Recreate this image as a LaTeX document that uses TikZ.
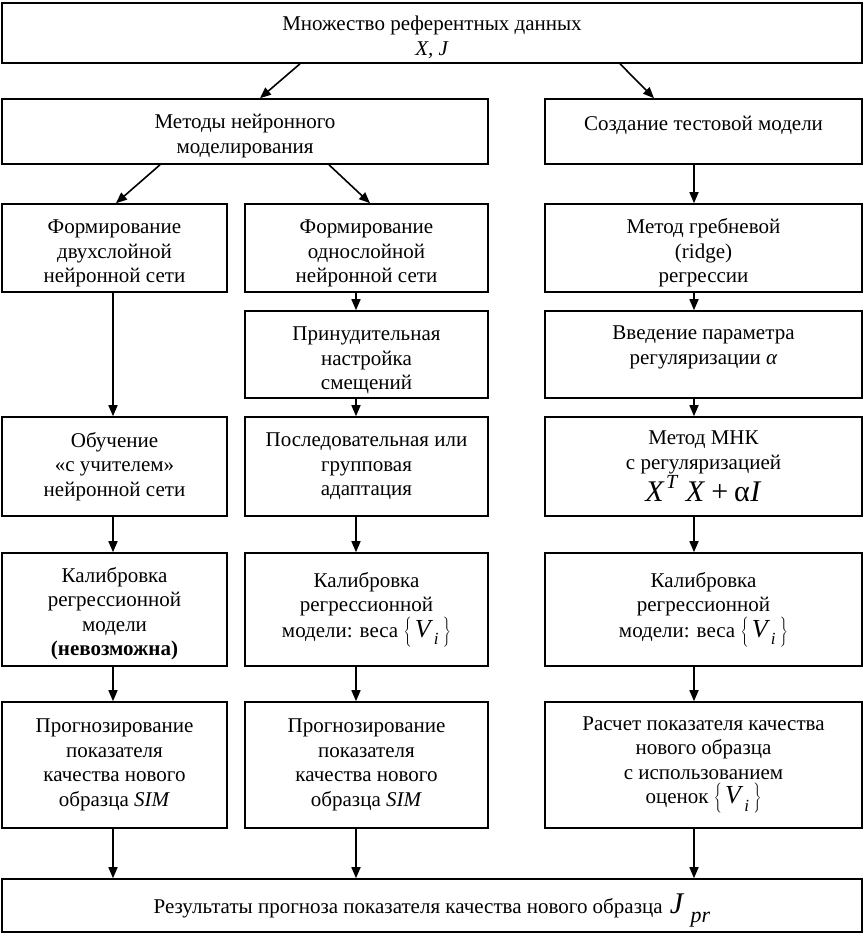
\documentclass[tikz,border=0pt]{standalone}
\usepackage{fontspec}
\setmainfont{Liberation Serif}
\usetikzlibrary{arrows.meta}
\newcommand{\Vset}{$\left\{\vrule height 19pt depth 9pt width 0pt\right.$\kern0.1em{\fontsize{26}{26}\selectfont\textit{V}}\kern0.03em\raisebox{-0.35em}{\fontsize{17}{17}\selectfont\textit{i}}\kern0.15em$\left.\vrule height 19pt depth 9pt width 0pt\right\}$}
\newcommand{\Jpr}{\kern0.1em{\fontsize{30}{30}\selectfont\textit{J}}\kern0.3em\raisebox{-0.45em}{\fontsize{22}{22}\selectfont\textit{pr}}}
\newcommand{\XTX}{{\fontsize{30}{30}\selectfont\textit{X}\kern0.05em\raisebox{0.45em}{\fontsize{20}{20}\selectfont\textit{T}}\kern0.25em\textit{X}\kern0.2em+\kern0.2emα\kern0.02em\textit{I}}}
\newcommand{\fl}[1]{\rule{0pt}{#1pt}}
\begin{document}
\begin{tikzpicture}[x=1pt,y=-1pt,
  box/.style={draw,line width=1.6pt,align=center,inner sep=0pt,font=\fontsize{21}{24.5}\selectfont},
  arr/.style={line width=1.6pt,-{Triangle[length=11pt,width=9pt]}}
]
\useasboundingbox (0,0) rectangle (864,934);
% column x positions of vertical connectors
\coordinate (cL) at (113,0);
\coordinate (cM) at (356,0);
\coordinate (cR) at (694,0);
\coordinate (d1) at (300,0);
\coordinate (d1e) at (260,0);
\coordinate (d2) at (620,0);
\coordinate (d2e) at (654,0);
\coordinate (d3) at (160,0);
\coordinate (d3e) at (116,0);
\coordinate (d4) at (329,0);
\coordinate (d4e) at (370,0);

\node[box,minimum width=860,minimum height=60] (top) at (432,33) {\fl{23}Множество референтных данных\\\textit{X, J}};

\node[box,minimum width=486,minimum height=65] (meth) at (245,131.5) {\fl{23}Методы нейронного\\моделирования};
\node[box,minimum width=317,minimum height=65] (test) at (703.5,131.5) {\fl{29}Создание тестовой модели\\\strut};

\node[box,minimum width=225,minimum height=88] (r3L) at (114.5,248) {\fl{25}Формирование\\двухслойной\\нейронной сети};
\node[box,minimum width=243,minimum height=88] (r3M) at (366.5,248) {\fl{25}Формирование\\однослойной\\нейронной сети};
\node[box,minimum width=317,minimum height=88] (r3R) at (703.5,248) {\fl{25}Метод гребневой\\(ridge)\\регрессии};

\node[box,minimum width=243,minimum height=87] (r4M) at (366.5,354.5) {\fl{26}Принудительная\\настройка\\смещений};
\node[box,minimum width=317,minimum height=87] (r4R) at (703.5,354.5) {\fl{27}Введение параметра\\регуляризации \textit{α}\\\strut};

\node[box,minimum width=225,minimum height=99] (r5L) at (114.5,466.5) {Обучение\\«с учителем»\\нейронной сети};
\node[box,minimum width=243,minimum height=99] (r5M) at (366.5,466.5) {Последовательная или\\групповая\\адаптация};
\node[box,minimum width=317,minimum height=99] (r5R) at (703.5,466.5) {Метод МНК\\с регуляризацией\\\XTX};

\node[box,minimum width=225,minimum height=113] (r6L) at (114.5,609.5) {\fl{23}Калибровка\\регрессионной\\модели\\\textbf{(невозможна)}};
\node[box,minimum width=243,minimum height=113] (r6M) at (366.5,609.5) {Калибровка\\регрессионной\\модели: веса \Vset};
\node[box,minimum width=317,minimum height=113] (r6R) at (703.5,609.5) {Калибровка\\регрессионной\\модели: веса \Vset};

\node[box,minimum width=225,minimum height=126] (r7L) at (114.5,765) {Прогнозирование\\показателя\\качества нового\\образца \textit{SIM}};
\node[box,minimum width=243,minimum height=126] (r7M) at (366.5,765) {Прогнозирование\\показателя\\качества нового\\образца \textit{SIM}};
\node[box,minimum width=317,minimum height=126] (r7R) at (703.5,765) {Расчет показателя качества\\нового образца\\с использованием\\оценок \Vset};

\node[box,minimum width=860,minimum height=53] (bot) at (432,905.5) {\fl{30}Результаты прогноза показателя качества нового образца \Jpr};

% diagonal connectors
\draw[arr] (top.south -| d1) -- (meth.north -| d1e);
\draw[arr] (top.south -| d2) -- (test.north -| d2e);
\draw[arr] (meth.south -| d3) -- (r3L.north -| d3e);
\draw[arr] (meth.south -| d4) -- (r3M.north -| d4e);
\draw[arr] (test.south -| cR) -- (r3R.north -| cR);

% left column
\draw[arr] (r3L.south -| cL) -- (r5L.north -| cL);
\draw[arr] (r5L.south -| cL) -- (r6L.north -| cL);
\draw[arr] (r6L.south -| cL) -- (r7L.north -| cL);
\draw[arr] (r7L.south -| cL) -- (bot.north -| cL);

% middle column
\draw[arr] (r3M.south -| cM) -- (r4M.north -| cM);
\draw[arr] (r4M.south -| cM) -- (r5M.north -| cM);
\draw[arr] (r5M.south -| cM) -- (r6M.north -| cM);
\draw[arr] (r6M.south -| cM) -- (r7M.north -| cM);
\draw[arr] (r7M.south -| cM) -- (bot.north -| cM);

% right column
\draw[arr] (r3R.south -| cR) -- (r4R.north -| cR);
\draw[arr] (r4R.south -| cR) -- (r5R.north -| cR);
\draw[arr] (r5R.south -| cR) -- (r6R.north -| cR);
\draw[arr] (r6R.south -| cR) -- (r7R.north -| cR);
\draw[arr] (r7R.south -| cR) -- (bot.north -| cR);
\end{tikzpicture}
\end{document}
